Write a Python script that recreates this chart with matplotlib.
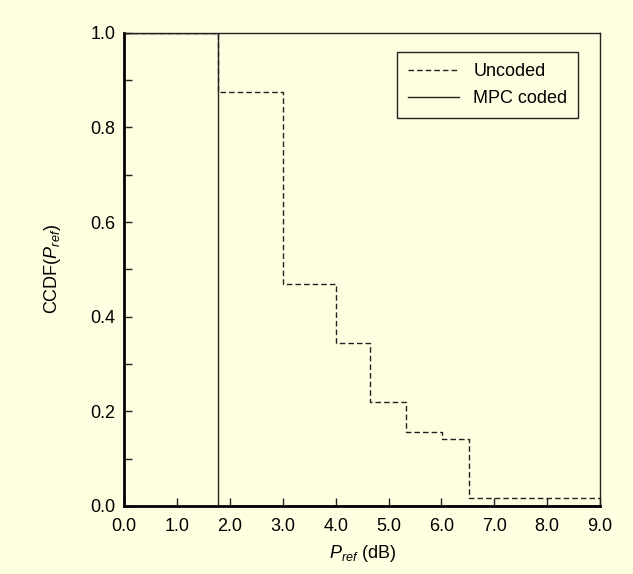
import matplotlib
matplotlib.use("Agg")
import matplotlib.pyplot as plt
from matplotlib.ticker import MultipleLocator, FormatStrFormatter

plt.rcParams['font.family'] = ['Liberation Sans', 'DejaVu Sans']
plt.rcParams['mathtext.fontset'] = 'custom'
plt.rcParams['mathtext.rm'] = 'Liberation Sans'
plt.rcParams['mathtext.it'] = 'Liberation Sans:italic'

# Data
uncoded_x = [0.0, 1.77, 3.0, 4.0, 4.65, 5.33, 6.02, 6.52, 9.0]
uncoded_y = [1.0, 0.875, 0.47, 0.345, 0.22, 0.157, 0.142, 0.017, 0.017]
mpc_x = [0.0, 1.77, 9.0]
mpc_y = [1.0, 0.0, 0.0]
series_labels = ["Uncoded", "MPC coded"]

bg = '#FFFEE0'
fs = 13
fig = plt.figure(figsize=(6.33, 5.74), dpi=100, facecolor=bg)
ax = fig.add_axes([0.196, 0.1185, 0.752, 0.8245])
ax.set_facecolor(bg)

ax.step(uncoded_x, uncoded_y, where='post', color='#222222', lw=1.0,
        dashes=(4, 2.2), label=series_labels[0], zorder=2)
ax.step(mpc_x, mpc_y, where='post', color='#222222', lw=1.0,
        label=series_labels[1], zorder=2)

ax.set_xlim(0, 9)
ax.set_ylim(0, 1)
ax.xaxis.set_major_locator(MultipleLocator(1.0))
ax.xaxis.set_major_formatter(FormatStrFormatter('%.1f'))
ax.yaxis.set_major_locator(MultipleLocator(0.2))
ax.yaxis.set_minor_locator(MultipleLocator(0.1))
ax.yaxis.set_major_formatter(FormatStrFormatter('%.1f'))

ax.tick_params(axis='both', which='both', direction='in', length=6, width=1,
               labelsize=fs, color='#222222')
ax.tick_params(axis='x', pad=9)
ax.tick_params(axis='y', pad=6)

for s in ['left', 'bottom']:
    ax.spines[s].set_linewidth(2.0)
for s in ['top', 'right']:
    ax.spines[s].set_linewidth(1.0)
    ax.spines[s].set_color('#222222')

ax.set_xlabel(r'$P_{ref}$ (dB)', fontsize=fs, labelpad=5.5)
ax.set_ylabel(r'CCDF($P_{ref}$)', fontsize=fs, labelpad=20)

leg = ax.legend(loc='upper right', bbox_to_anchor=(0.954, 0.959), borderaxespad=0,
                fontsize=fs, frameon=True, fancybox=False, edgecolor='#222222',
                facecolor=bg, framealpha=1, handlelength=2.8,
                handletextpad=0.8, borderpad=0.6, labelspacing=0.55)
leg.get_frame().set_linewidth(1.0)

fig.savefig('out.png', dpi=100, facecolor=bg)
